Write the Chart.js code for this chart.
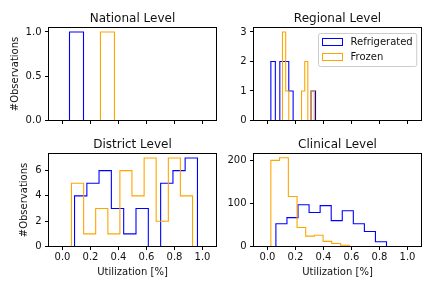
<!DOCTYPE html>
<html lang="en">
<head>
<meta charset="UTF-8">
<title>Utilization histograms</title>
<script src="https://cdn.jsdelivr.net/npm/chart.js@4.4.0/dist/chart.umd.min.js"></script>
<style>
  body { margin: 0; background: #fff; }
  #wrap { position: relative; width: 432px; height: 288px; }
  #wrap canvas { position: absolute; left: 0; top: 0; }
</style>
</head>
<body>
<div id="wrap">
  <canvas id="national" width="432" height="288"></canvas>
  <canvas id="regional" width="432" height="288"></canvas>
  <canvas id="district" width="432" height="288"></canvas>
  <canvas id="clinical" width="432" height="288"></canvas>
</div>

<script>
// series names
const seriesNames = ['Refrigerated', 'Frozen'];

// shared x ticks
const xTicks = [0.0, 0.2, 0.4, 0.6, 0.8, 1.0];

// National level (bin edges + counts)
const natRefEdges = [0.05, 0.15];
const natRefCounts = [1];
const natFrzEdges = [0.271, 0.371];
const natFrzCounts = [1];
const natYTicks = [0.0, 0.5, 1.0];

// Regional level
const regRefEdges = [0.024, 0.056, 0.088, 0.120, 0.152, 0.183, 0.215, 0.247, 0.279, 0.311, 0.343];
const regRefCounts = [2, 0, 2, 2, 1, 0, 0, 0, 0, 1];
const regFrzEdges = [0.107, 0.130, 0.152, 0.175, 0.198, 0.220, 0.243, 0.266, 0.288, 0.311, 0.334];
const regFrzCounts = [3, 1, 0, 0, 0, 0, 1, 2, 0, 1];
const regYTicks = [0, 1, 2, 3];

// District level
const disRefEdges = [0.086, 0.174, 0.261, 0.349, 0.437, 0.525, 0.613, 0.701, 0.789, 0.876, 0.964];
const disRefCounts = [4, 5, 6, 3, 1, 3, 0, 5, 6, 7];
const disFrzEdges = [0.064, 0.151, 0.237, 0.324, 0.410, 0.496, 0.583, 0.669, 0.756, 0.842, 0.929];
const disFrzCounts = [5, 1, 3, 1, 6, 4, 7, 2, 7, 4];
const disYTicks = [0, 2, 4, 6];

// Clinical level
const cliRefEdges = [0.060, 0.139, 0.218, 0.297, 0.376, 0.455, 0.534, 0.613, 0.692, 0.771, 0.850];
const cliRefCounts = [53, 67, 97, 79, 95, 60, 83, 53, 35, 11];
const cliFrzEdges = [0.024, 0.086, 0.149, 0.211, 0.273, 0.335, 0.397, 0.459, 0.522, 0.584];
const cliFrzCounts = [200, 206, 116, 44, 24, 26, 12, 7, 3];
const cliYTicks = [0, 100, 200];

const BLUE = '#0000ff';
const ORANGE = '#ffa500';
const TXT = '#111';

Chart.defaults.font.family = "'DejaVu Sans', sans-serif";
Chart.defaults.font.size = 10;
Chart.defaults.color = TXT;
Chart.defaults.animation = false;

// step outline like matplotlib histtype='step'
function histPoints(edges, counts) {
  const pts = [{x: edges[0], y: 0}];
  counts.forEach((c, i) => pts.push({x: edges[i], y: c}));
  pts.push({x: edges[edges.length - 1], y: 0});
  return pts;
}

// spines on all 4 sides + axes title above the plot area
const framePlugin = {
  id: 'frame',
  afterDatasetsDraw(chart, args, opts) {
    const {ctx, chartArea: a} = chart;
    ctx.save();
    ctx.strokeStyle = '#000';
    ctx.lineWidth = 1;
    ctx.strokeRect(a.left, a.top, a.right - a.left, a.bottom - a.top);
    ctx.fillStyle = TXT;
    ctx.font = "12px 'DejaVu Sans', sans-serif";
    ctx.textAlign = 'center';
    ctx.textBaseline = 'alphabetic';
    ctx.fillText(opts.text, (a.left + a.right) / 2, a.top - 6);
    ctx.restore();
  }
};

// matplotlib-ish legend box in the upper right corner
const boxLegend = {
  id: 'boxLegend',
  afterDraw(chart, args, opts) {
    if (!opts.show) return;
    const {ctx, chartArea: a} = chart;
    const sets = chart.data.datasets;
    ctx.save();
    ctx.font = "10px 'DejaVu Sans', sans-serif";
    const textW = Math.max(...sets.map(d => ctx.measureText(d.label).width));
    const w = 4 + 20 + 8 + textW + 4;
    const h = 33;
    const x0 = Math.round(a.right - 5 - w) + 0.5;
    const y0 = Math.round(a.top + 5) + 0.5;
    ctx.beginPath();
    ctx.roundRect(x0, y0, w, h, 2);
    ctx.fillStyle = 'rgba(255,255,255,0.8)';
    ctx.fill();
    ctx.strokeStyle = '#cccccc';
    ctx.lineWidth = 1;
    ctx.stroke();
    sets.forEach((d, i) => {
      const cy = y0 + 8.5 + i * 15;
      ctx.strokeStyle = d.borderColor;
      ctx.strokeRect(x0 + 4, cy - 3.5, 20, 7);
      ctx.fillStyle = TXT;
      ctx.textAlign = 'left';
      ctx.textBaseline = 'alphabetic';
      ctx.fillText(d.label, x0 + 32, cy + 2.5);
    });
    ctx.restore();
  }
};

const panels = [
  {id: 'national', title: 'National Level', area: {l: 48.5, t: 27.5, r: 216.5, b: 120.5},
   yMax: 1.05, yTicks: natYTicks, yDigits: 1, yTitleX: 15.8, xLabels: false, legend: false,
   ref: [natRefEdges, natRefCounts], frz: [natFrzEdges, natFrzCounts]},
  {id: 'regional', title: 'Regional Level', area: {l: 253.5, t: 27.5, r: 421.5, b: 120.5},
   yMax: 3.15, yTicks: regYTicks, yDigits: 0, yTitleX: null, xLabels: false, legend: true,
   ref: [regRefEdges, regRefCounts], frz: [regFrzEdges, regFrzCounts]},
  {id: 'district', title: 'District Level', area: {l: 48.5, t: 153.5, r: 216.5, b: 246.5},
   yMax: 7.35, yTicks: disYTicks, yDigits: 0, yTitleX: 24.5, xLabels: true, legend: false,
   ref: [disRefEdges, disRefCounts], frz: [disFrzEdges, disFrzCounts]},
  {id: 'clinical', title: 'Clinical Level', area: {l: 253.5, t: 153.5, r: 421.5, b: 246.5},
   yMax: 216, yTicks: cliYTicks, yDigits: 0, yTitleX: null, xLabels: true, legend: false,
   ref: [cliRefEdges, cliRefCounts], frz: [cliFrzEdges, cliFrzCounts]}
];

panels.forEach(p => {
  const yW = p.yTitleX !== null ? p.area.l - (p.yTitleX - 6) : 40;
  const xH = p.xLabels ? 40 : 10;
  new Chart(document.getElementById(p.id), {
    type: 'line',
    data: {
      datasets: [{
        label: seriesNames[0],
        data: histPoints(p.ref[0], p.ref[1]),
        borderColor: BLUE,
        borderWidth: 1.1,
        stepped: 'before',
        pointRadius: 0,
        fill: false,
        order: 1
      }, {
        label: seriesNames[1],
        data: histPoints(p.frz[0], p.frz[1]),
        borderColor: ORANGE,
        borderWidth: 1.1,
        stepped: 'before',
        pointRadius: 0,
        fill: false,
        order: 0
      }]
    },
    options: {
      responsive: false,
      devicePixelRatio: 1,
      layout: {
        padding: {
          left: p.area.l - yW,
          top: p.area.t,
          right: 432 - p.area.r,
          bottom: 288 - p.area.b - xH
        }
      },
      plugins: {
        legend: {display: false},
        tooltip: {enabled: false},
        frame: {text: p.title},
        boxLegend: {show: p.legend}
      },
      scales: {
        x: {
          type: 'linear',
          min: -0.1,
          max: 1.1,
          afterBuildTicks: s => { s.ticks = xTicks.map(v => ({value: v})); },
          afterFit: s => { s.height = xH; },
          ticks: {
            autoSkip: false,
            maxRotation: 0,
            padding: 1.8,
            color: TXT,
            callback: v => p.xLabels ? v.toFixed(1) : ''
          },
          grid: {display: true, drawOnChartArea: false, drawTicks: true, tickLength: 3.5, color: '#000'},
          border: {display: false},
          title: {
            display: p.xLabels,
            text: 'Utilization [%]',
            color: TXT,
            padding: {top: 0, bottom: 8.4}
          }
        },
        y: {
          type: 'linear',
          min: 0,
          max: p.yMax,
          afterBuildTicks: s => { s.ticks = p.yTicks.map(v => ({value: v})); },
          afterFit: s => { s.width = yW; },
          ticks: {
            autoSkip: false,
            padding: 3.5,
            color: TXT,
            callback: v => v.toFixed(p.yDigits)
          },
          grid: {display: true, drawOnChartArea: false, drawTicks: true, tickLength: 3.5, color: '#000'},
          border: {display: false},
          title: {
            display: p.yTitleX !== null,
            text: '#Observations',
            color: TXT,
            padding: {top: 0, bottom: 0}
          }
        }
      }
    },
    plugins: [framePlugin, boxLegend]
  });
});
</script>
</body>
</html>
